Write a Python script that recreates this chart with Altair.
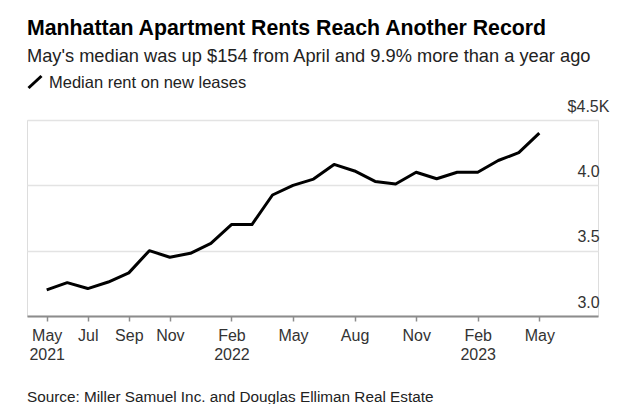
import altair as alt
import pandas as pd

# Data
month_idx = list(range(25))  # May 2021 .. May 2023
month_names = ["May", "Jun", "Jul", "Aug", "Sep", "Oct", "Nov", "Dec",
               "Jan", "Feb", "Mar", "Apr", "May", "Jun", "Jul", "Aug",
               "Sep", "Oct", "Nov", "Dec", "Jan", "Feb", "Mar", "Apr", "May"]
rents = [3.20, 3.255, 3.21, 3.26, 3.33, 3.50, 3.45, 3.48, 3.556, 3.70, 3.70, 3.926,
         4.00, 4.048, 4.16, 4.11, 4.03, 4.01, 4.10, 4.05, 4.10, 4.10, 4.19, 4.25, 4.40]
tick_idx = [0, 2, 4, 6, 9, 12, 15, 18, 21, 24]
tick_years = {0: "2021", 9: "2022", 21: "2023"}
y_ticks = [3.0, 3.5, 4.0, 4.5]

title = "Manhattan Apartment Rents Reach Another Record"
subtitle = "May's median was up $154 from April and 9.9% more than a year ago"
legend_label = "Median rent on new leases"
source = "Source: Miller Samuel Inc. and Douglas Elliman Real Estate"

FONT = "Liberation Sans"
W, H = 571, 196

df = pd.DataFrame({"i": month_idx, "rent": rents})

# x label expression
parts = []
for t in tick_idx:
    if t in tick_years:
        parts.append(f"datum.value == {t} ? ['{month_names[t]}', '{tick_years[t]}']")
    else:
        parts.append(f"datum.value == {t} ? '{month_names[t]}'")
x_label_expr = " : ".join(parts) + " : ''"

y_label_expr = "datum.value == 4.5 ? '$4.5K' : format(datum.value, '.1f')"

line = alt.Chart(df).mark_line(color="#000000", strokeWidth=3, strokeJoin="round").encode(
    x=alt.X("i:Q",
            scale=alt.Scale(domain=[-0.96, 26.86], nice=False, zero=False),
            axis=alt.Axis(values=tick_idx, labelExpr=x_label_expr, title=None, grid=False,
                          domainColor="#8c8c8c", domainWidth=2, tickColor="#8c8c8c",
                          tickWidth=1.5, tickSize=5, labelPadding=6, labelFontSize=16,
                          labelColor="#333333", labelFont=FONT, labelLineHeight=19,
                          labelBaseline="top")),
    y=alt.Y("rent:Q",
            scale=alt.Scale(domain=[3.0, 4.5], nice=False, zero=False),
            axis=alt.Axis(values=y_ticks, labelExpr=y_label_expr, title=None, orient="right",
                          grid=True, gridColor="#e3e3e3", gridWidth=1.5, domain=False,
                          ticks=False, labelPadding=-10, labelAlign="center",
                          labelBaseline="alphabetic", labelOffset=-9, labelFontSize=16,
                          labelColor="#333333", labelFont=FONT)),
)

def txt(s, x, y, size, weight="normal", color="#111111"):
    return alt.Chart(pd.DataFrame({"t": [s]})).mark_text(
        align="left", baseline="alphabetic", font=FONT, fontSize=size,
        fontWeight=weight, color=color
    ).encode(text="t:N", x=alt.value(x), y=alt.value(y))

title_t = txt(title, 0, -85, 21.3, "bold", "#000000")
sub_t = txt(subtitle, 0, -58.5, 18.25, "normal", "#222222")
leg_t = txt(legend_label, 22, -32, 16.5, "normal", "#222222")
src_t = txt(source, 0, 282, 15.3, "normal", "#222222")

slash = alt.Chart(pd.DataFrame({"a": [0]})).mark_rule(color="#000000", strokeWidth=3).encode(
    x=alt.value(1.5), x2=alt.value(14.5), y=alt.value(-32), y2=alt.value(-44)
)

chart = alt.layer(line, title_t, sub_t, leg_t, src_t, slash).properties(
    width=W, height=H,
    autosize=alt.AutoSizeParams(type="none"),
    padding={"left": 19, "top": 112, "right": 34, "bottom": 88},
).configure_view(stroke=None).configure(background="#ffffff")

chart.save("out.html", embed_options={"renderer": "svg", "actions": False})
